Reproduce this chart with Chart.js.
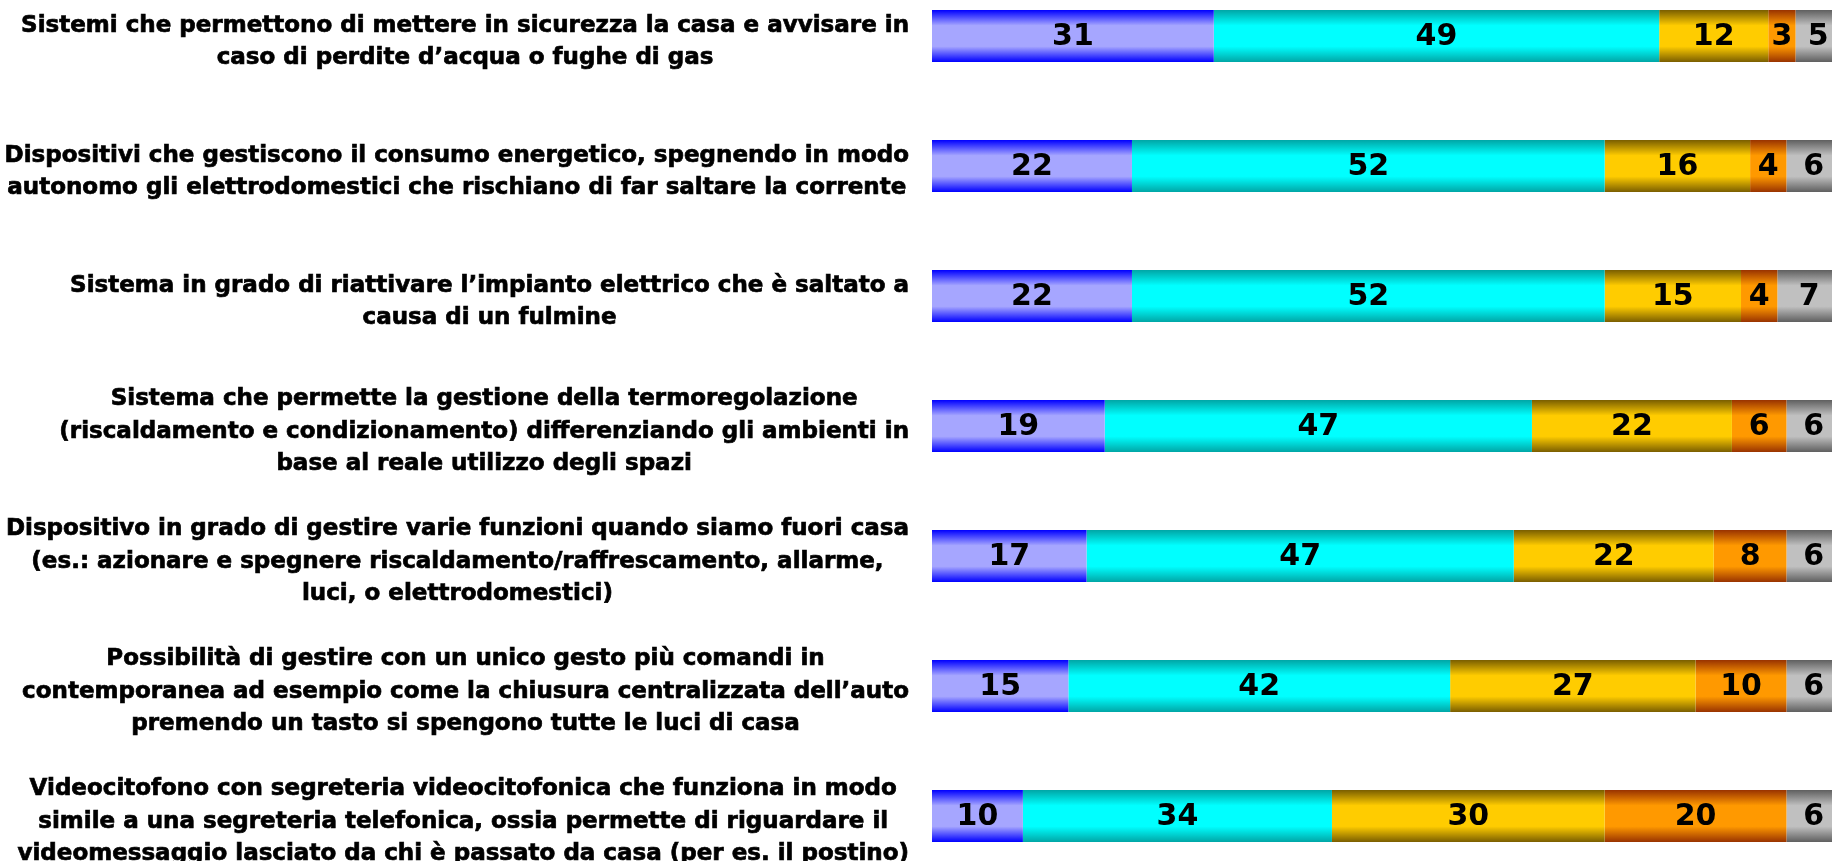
<!DOCTYPE html>
<html>
<head>
<meta charset="utf-8">
<script src="https://cdn.jsdelivr.net/npm/chart.js@4/dist/chart.umd.min.js"></script>
<style>
    html, body {
        margin: 0;
        padding: 0;
        background: #ffffff;
        overflow: hidden;
        width: 1832px;
        height: 861px;
    }
    #wrap {
        position: absolute;
        left: 0;
        top: -29px;
    }
</style>
</head>
<body>
<div id="wrap"><canvas id="chart" width="1841" height="910"></canvas></div>
<script>
// one entry per row, top to bottom
const categories = [
    ["Sistemi che permettono di mettere in sicurezza la casa e avvisare in",
     "caso di perdite d’acqua o fughe di gas"],
    ["Dispositivi che gestiscono il consumo energetico, spegnendo in modo",
     "autonomo gli elettrodomestici che rischiano di far saltare la corrente"],
    ["Sistema in grado di riattivare l’impianto elettrico che è saltato a",
     "causa di un fulmine"],
    ["Sistema che permette la gestione della termoregolazione",
     "(riscaldamento e condizionamento) differenziando gli ambienti in",
     "base al reale utilizzo degli spazi"],
    ["Dispositivo in grado di gestire varie funzioni quando siamo fuori casa",
     "(es.: azionare e spegnere riscaldamento/raffrescamento, allarme,",
     "luci, o elettrodomestici)"],
    ["Possibilità di gestire con un unico gesto più comandi in",
     "contemporanea ad esempio come la chiusura centralizzata dell’auto",
     "premendo un tasto si spengono tutte le luci di casa"],
    ["Videocitofono con segreteria videocitofonica che funziona in modo",
     "simile a una segreteria telefonica, ossia permette di riguardare il",
     "videomessaggio lasciato da chi è passato da casa (per es. il postino)"],
];

const seriesA = [31, 22, 22, 19, 17, 15, 10];
const seriesB = [49, 52, 52, 47, 47, 42, 34];
const seriesC = [12, 16, 15, 22, 22, 27, 30];
const seriesD = [3, 4, 4, 6, 8, 10, 20];
const seriesE = [5, 6, 7, 6, 6, 6, 6];

// [edge colour, centre colour] for each series
const shades = [
    ["#0000ff", "#a6a6ff"],
    ["#00a6a6", "#00ffff"],
    ["#7a5e00", "#ffcc00"],
    ["#993300", "#ff9900"],
    ["#5f5f5f", "#c0c0c0"],
];

const BAR_HALF = 26;
const labelFont = "bold 23px 'DejaVu Sans', Verdana, sans-serif";
const valueFont = "bold 30px 'DejaVu Sans', Verdana, sans-serif";

function barFill(index) {
    return function (context) {
        const chart = context.chart;
        const yScale = chart.scales.y;
        if (!chart.chartArea || !yScale) {
            return shades[index][1];
        }
        const y = yScale.getPixelForValue(context.dataIndex);
        const g = chart.ctx.createLinearGradient(0, y - BAR_HALF, 0, y + BAR_HALF);
        g.addColorStop(0, shades[index][0]);
        g.addColorStop(0.3, shades[index][1]);
        g.addColorStop(0.7, shades[index][1]);
        g.addColorStop(1, shades[index][0]);
        return g;
    };
}

// row texts: right aligned block, lines centred inside it
const rowLabels = {
    id: "rowLabels",
    afterDraw(chart) {
        const ctx = chart.ctx;
        const yScale = chart.scales.y;
        const rightX = 909;
        const lineH = 32.5;
        ctx.save();
        ctx.font = labelFont;
        ctx.fillStyle = "#000000";
        ctx.strokeStyle = "#000000";
        ctx.lineWidth = 0.7;
        ctx.textAlign = "center";
        ctx.textBaseline = "middle";
        categories.forEach((lines, i) => {
            let blockW = 0;
            lines.forEach((l) => {
                blockW = Math.max(blockW, ctx.measureText(l).width);
            });
            const cx = rightX - blockW / 2;
            const cy = yScale.getPixelForValue(i) + 6;
            const top = cy - ((lines.length - 1) * lineH) / 2;
            lines.forEach((l, k) => {
                ctx.fillText(l, cx, top + k * lineH);
                ctx.strokeText(l, cx, top + k * lineH);
            });
        });
        ctx.restore();
    },
};

// numbers in the middle of each segment
const valueLabels = {
    id: "valueLabels",
    afterDatasetsDraw(chart) {
        const ctx = chart.ctx;
        ctx.save();
        ctx.font = valueFont;
        ctx.fillStyle = "#000000";
        ctx.textAlign = "center";
        ctx.textBaseline = "middle";
        chart.data.datasets.forEach((ds, di) => {
            const meta = chart.getDatasetMeta(di);
            meta.data.forEach((bar, i) => {
                const x = (bar.x + bar.base) / 2;
                ctx.fillText(String(ds.data[i]), x, bar.y + 1);
            });
        });
        ctx.restore();
    },
};

const seriesList = [seriesA, seriesB, seriesC, seriesD, seriesE];

new Chart(document.getElementById("chart").getContext("2d"), {
    type: "bar",
    data: {
        labels: categories,
        datasets: seriesList.map((values, i) => ({
            label: "s" + (i + 1),
            data: values,
            backgroundColor: barFill(i),
            borderWidth: 0,
            barPercentage: 0.4,
            categoryPercentage: 1,
        })),
    },
    options: {
        indexAxis: "y",
        responsive: false,
        animation: false,
        devicePixelRatio: 1,
        layout: {
            padding: { left: 932, right: 0, top: 0, bottom: 0 },
        },
        scales: {
            x: {
                stacked: true,
                min: 0,
                max: 100,
                display: false,
            },
            y: {
                stacked: true,
                display: false,
            },
        },
        plugins: {
            legend: { display: false },
            tooltip: { enabled: false },
        },
    },
    plugins: [rowLabels, valueLabels],
});
</script>
</body>
</html>
